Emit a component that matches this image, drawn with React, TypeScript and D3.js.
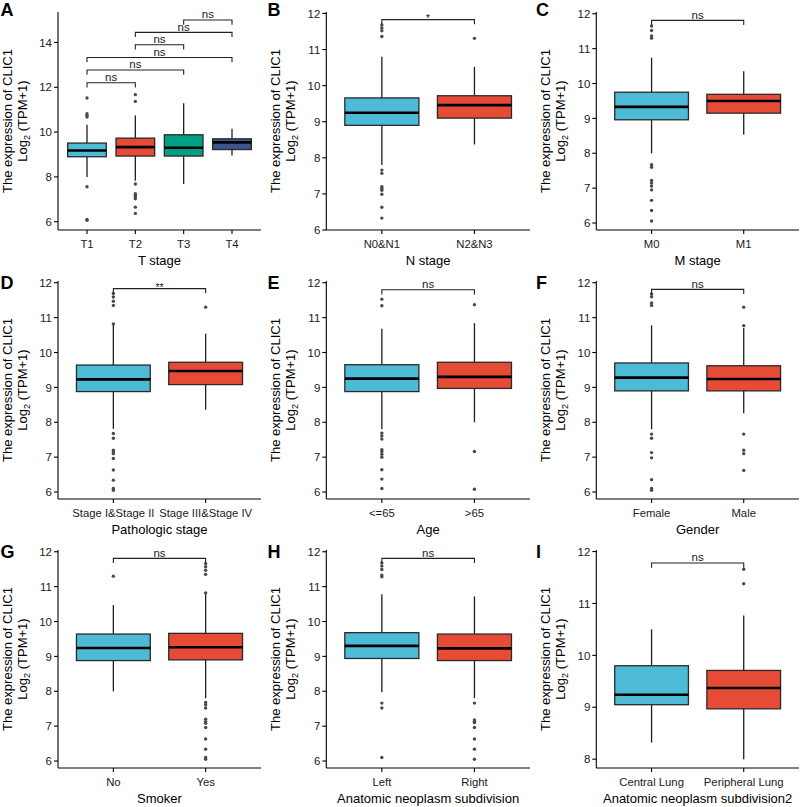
import React from "react";
import * as d3 from "d3";

// ---------- data ----------
// box stats: [lower whisker, Q1, median, Q3, upper whisker]
const tStageGroups = ["T1", "T2", "T3", "T4"];
const tStageBoxes = [
  [8.0, 8.9, 9.18, 9.51, 10.33],
  [7.83, 8.93, 9.33, 9.73, 10.74],
  [7.68, 8.93, 9.3, 9.88, 11.29],
  [8.96, 9.22, 9.54, 9.7, 10.15],
];
const tStageOutliers = [
  [11.52, 10.82, 10.74, 10.67, 7.56, 6.1, 6.06],
  [11.67, 11.37, 7.68, 7.25, 7.17, 7.1, 7.02, 6.65, 6.37],
  [],
  [],
];
const tStageTests: [number, number, string, number][] = [
  [0, 1, "ns", 12.2],
  [0, 2, "ns", 12.77],
  [0, 3, "ns", 13.33],
  [1, 2, "ns", 13.9],
  [1, 3, "ns", 14.45],
  [2, 3, "ns", 15.0],
];

const nStageGroups = ["N0&N1", "N2&N3"];
const nStageBoxes = [
  [7.8, 8.9, 9.25, 9.66, 10.8],
  [8.37, 9.1, 9.46, 9.72, 10.52],
];
const nStageOutliers = [
  [11.68, 11.6, 11.52, 11.36, 7.66, 7.57, 7.2, 7.15, 7.1, 6.99, 6.63, 6.33],
  [11.31],
];
const nStageTests: [number, number, string, number][] = [[0, 1, "*", 11.83]];

const mStageGroups = ["M0", "M1"];
const mStageBoxes = [
  [8.0, 8.96, 9.33, 9.75, 10.74],
  [8.53, 9.15, 9.5, 9.69, 10.35],
];
const mStageOutliers = [
  [11.65, 11.52, 11.36, 11.3, 7.67, 7.6, 7.22, 7.15, 7.06, 6.95, 6.65, 6.36, 6.06],
  [],
];
const mStageTests: [number, number, string, number][] = [[0, 1, "ns", 11.81]];

const pathGroups = ["Stage I&Stage II", "Stage III&Stage IV"];
const pathBoxes = [
  [7.81, 8.88, 9.23, 9.64, 10.8],
  [8.36, 9.08, 9.47, 9.72, 10.54],
];
const pathOutliers = [
  [11.69, 11.59, 11.47, 11.35, 10.82, 7.68, 7.54, 7.2, 7.15, 7.1, 6.96, 6.63, 6.34, 6.1, 6.05],
  [11.3],
];
const pathTests: [number, number, string, number][] = [[0, 1, "**", 11.83]];

const ageGroups = ["<=65", ">65"];
const ageBoxes = [
  [7.8, 8.88, 9.25, 9.65, 10.68],
  [8.0, 8.97, 9.3, 9.72, 10.84],
];
const ageOutliers = [
  [11.53, 11.34, 7.69, 7.61, 7.52, 7.21, 7.16, 7.08, 7.0, 6.64, 6.37, 6.1],
  [11.37, 7.16, 6.08],
];
const ageTests: [number, number, string, number][] = [[0, 1, "ns", 11.8]];

const genderGroups = ["Female", "Male"];
const genderBoxes = [
  [7.8, 8.9, 9.28, 9.7, 10.78],
  [8.26, 8.9, 9.24, 9.62, 10.7],
];
const genderOutliers = [
  [11.68, 11.6, 11.42, 11.35, 7.66, 7.54, 7.13, 6.98, 6.35, 6.1, 6.05],
  [11.3, 10.77, 7.66, 7.2, 7.1, 6.62],
];
const genderTests: [number, number, string, number][] = [[0, 1, "ns", 11.81]];

const smokerGroups = ["No", "Yes"];
const smokerBoxes = [
  [8.0, 8.88, 9.24, 9.64, 10.47],
  [7.8, 8.9, 9.26, 9.66, 10.8],
];
const smokerOutliers = [
  [11.3],
  [11.66, 11.57, 11.47, 11.35, 10.82, 7.68, 7.61, 7.52, 7.2, 7.13, 7.08, 6.96, 6.63, 6.34, 6.1, 6.05],
];
const smokerTests: [number, number, string, number][] = [[0, 1, "ns", 11.81]];

const sideGroups = ["Left", "Right"];
const sideBoxes = [
  [7.97, 8.94, 9.3, 9.68, 10.78],
  [7.8, 8.88, 9.23, 9.64, 10.72],
];
const sideOutliers = [
  [11.68, 11.59, 11.49, 11.33, 11.28, 7.66, 7.52, 6.1],
  [7.66, 7.18, 7.14, 7.1, 6.96, 6.63, 6.34, 6.05],
];
const sideTests: [number, number, string, number][] = [[0, 1, "ns", 11.81]];

const lungGroups = ["Central Lung", "Peripheral Lung"];
const lungBoxes = [
  [8.32, 9.05, 9.24, 9.8, 10.5],
  [8.0, 8.97, 9.37, 9.71, 10.77],
];
const lungOutliers = [[], [11.66, 11.38]];
const lungTests: [number, number, string, number][] = [[0, 1, "ns", 11.78]];

const axisTitles = [
  "T stage",
  "N stage",
  "M stage",
  "Pathologic stage",
  "Age",
  "Gender",
  "Smoker",
  "Anatomic neoplasm subdivision",
  "Anatomic neoplasm subdivision2",
];
const panelLetters = ["A", "B", "C", "D", "E", "F", "G", "H", "I"];
const ticksWide = [6, 8, 10, 12, 14];
const ticksStd = [6, 7, 8, 9, 10, 11, 12];
const ticksLung = [8, 9, 10, 11, 12];

const npgFour = ["#4DBBD5", "#E64B35", "#00A087", "#3C5488"];
const npgTwo = ["#4DBBD5", "#E64B35"];

// ---------- layout ----------
const COL_LEFT = [0, 267, 534];
const PLOT_L = [58, 326.3, 596.3];
const PLOT_R = [261, 530, 799];
const ROW_TOP = [0, 269, 538];
const FONT = "'Liberation Sans', Arial, Helvetica, sans-serif";

type PanelDef = {
  groups: string[];
  boxes: number[][];
  outliers: number[][];
  tests: [number, number, string, number][];
  domain: [number, number];
  ticks: number[];
  colors: string[];
};

const panels: PanelDef[] = [
  { groups: tStageGroups, boxes: tStageBoxes, outliers: tStageOutliers, tests: tStageTests, domain: [5.63, 15.36], ticks: ticksWide, colors: npgFour },
  { groups: nStageGroups, boxes: nStageBoxes, outliers: nStageOutliers, tests: nStageTests, domain: [6.0, 12.04], ticks: ticksStd, colors: npgTwo },
  { groups: mStageGroups, boxes: mStageBoxes, outliers: mStageOutliers, tests: mStageTests, domain: [5.8, 12.05], ticks: ticksStd, colors: npgTwo },
  { groups: pathGroups, boxes: pathBoxes, outliers: pathOutliers, tests: pathTests, domain: [5.8, 12.05], ticks: ticksStd, colors: npgTwo },
  { groups: ageGroups, boxes: ageBoxes, outliers: ageOutliers, tests: ageTests, domain: [5.8, 12.05], ticks: ticksStd, colors: npgTwo },
  { groups: genderGroups, boxes: genderBoxes, outliers: genderOutliers, tests: genderTests, domain: [5.8, 12.05], ticks: ticksStd, colors: npgTwo },
  { groups: smokerGroups, boxes: smokerBoxes, outliers: smokerOutliers, tests: smokerTests, domain: [5.8, 12.05], ticks: ticksStd, colors: npgTwo },
  { groups: sideGroups, boxes: sideBoxes, outliers: sideOutliers, tests: sideTests, domain: [5.8, 12.05], ticks: ticksStd, colors: npgTwo },
  { groups: lungGroups, boxes: lungBoxes, outliers: lungOutliers, tests: lungTests, domain: [7.83, 12.03], ticks: ticksLung, colors: npgTwo },
];

function BoxPanel({ p, idx }: { p: PanelDef; idx: number }) {
  const col = idx % 3;
  const row = Math.floor(idx / 3);
  const top = ROW_TOP[row] + 12;
  const bottom = ROW_TOP[row] + 230;
  const left = PLOT_L[col];
  const right = PLOT_R[col];
  const y = d3.scaleLinear().domain(p.domain).range([bottom, top]);
  const x = d3.scalePoint<string>().domain(p.groups).range([left, right]).padding(0.6);
  const bw = x.step() * 0.8;
  const tip = 4.7;
  const midY = (top + bottom) / 2;
  const letterY = row === 0 ? 16 : ROW_TOP[row] + 20;
  const letterX = COL_LEFT[col] + (col === 2 ? 2 : 0.5);

  return (
    <g>
      <text x={letterX} y={letterY} fontSize={18} fontWeight="bold" fill="#000" fontFamily={FONT}>
        {panelLetters[idx]}
      </text>

      {/* boxes */}
      {p.groups.map((g, i) => {
        const [lo, q1, med, q3, hi] = p.boxes[i];
        const cx = x(g) as number;
        return (
          <g key={g}>
            <line x1={cx} x2={cx} y1={y(hi)} y2={y(q3)} stroke="#1e1e1e" strokeWidth={1.3} />
            <line x1={cx} x2={cx} y1={y(q1)} y2={y(lo)} stroke="#1e1e1e" strokeWidth={1.3} />
            <rect
              x={cx - bw / 2}
              y={y(q3)}
              width={bw}
              height={y(q1) - y(q3)}
              fill={p.colors[i]}
              stroke="#2a2a2a"
              strokeWidth={1.3}
            />
            <line x1={cx - bw / 2} x2={cx + bw / 2} y1={y(med)} y2={y(med)} stroke="#000" strokeWidth={2.6} />
            {p.outliers[i].map((v, k) => (
              <circle key={k} cx={cx} cy={y(v)} r={1.7} fill="#4a4a4a" />
            ))}
          </g>
        );
      })}

      {/* significance brackets */}
      {p.tests.map(([a, b, label, v], k) => {
        const x1 = x(p.groups[a]) as number;
        const x2 = x(p.groups[b]) as number;
        const yy = y(v);
        const isStar = label.includes("*");
        return (
          <g key={k}>
            <path
              d={`M${x1},${yy + tip}V${yy}H${x2}V${yy + tip}`}
              fill="none"
              stroke="#222"
              strokeWidth={1.1}
            />
            <text
              x={(x1 + x2) / 2}
              y={isStar ? yy + 2.5 : yy - 1.6}
              textAnchor="middle"
              fontSize={isStar ? 10.5 : 11.5}
              fill="#222"
              fontFamily={FONT}
            >
              {label}
            </text>
          </g>
        );
      })}

      {/* y axis */}
      <line x1={left} x2={left} y1={top} y2={bottom} stroke="#000" strokeWidth={1.1} />
      {p.ticks.map((t) => (
        <g key={t}>
          <line x1={left - 4} x2={left} y1={y(t)} y2={y(t)} stroke="#000" strokeWidth={1.1} />
          <text x={left - 6} y={y(t)} dy="0.36em" textAnchor="end" fontSize={11.5} fill="#1a1a1a" fontFamily={FONT}>
            {t}
          </text>
        </g>
      ))}

      {/* x axis */}
      <line x1={left} x2={right} y1={bottom} y2={bottom} stroke="#000" strokeWidth={1.1} />
      {p.groups.map((g) => (
        <g key={g}>
          <line x1={x(g)} x2={x(g)} y1={bottom} y2={bottom + 4} stroke="#000" strokeWidth={1.1} />
          <text x={x(g)} y={bottom + 18} textAnchor="middle" fontSize={11.3} fill="#1a1a1a" fontFamily={FONT}>
            {g}
          </text>
        </g>
      ))}
      <text x={(left + right) / 2} y={bottom + 35} textAnchor="middle" fontSize={13} fill="#000" fontFamily={FONT}>
        {axisTitles[idx]}
      </text>

      {/* y title */}
      <text
        transform={`translate(${left - 46.5},${midY}) rotate(-90)`}
        textAnchor="middle"
        fontSize={13}
        fill="#000"
        fontFamily={FONT}
      >
        The expression of CLIC1
      </text>
      <text
        transform={`translate(${left - 31.5},${midY}) rotate(-90)`}
        textAnchor="middle"
        fontSize={13}
        fill="#000"
        fontFamily={FONT}
      >
        Log
        <tspan dy={3} fontSize={9}>
          2
        </tspan>
        <tspan dy={-3}> (TPM+1)</tspan>
      </text>
    </g>
  );
}

export default function App() {
  return (
    <>
      <style>{`body{margin:0;background:#fff}`}</style>
      <svg width={800} height={807} viewBox="0 0 800 807" style={{ display: "block", background: "#fff" }}>
        {panels.map((p, i) => (
          <BoxPanel key={i} p={p} idx={i} />
        ))}
      </svg>
    </>
  );
}
